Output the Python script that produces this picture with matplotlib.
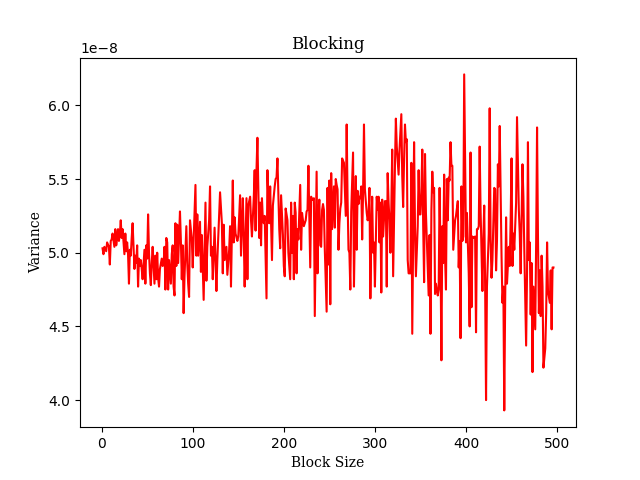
import numpy as np
import matplotlib
matplotlib.use("Agg")
import matplotlib.pyplot as plt

# Block sizes and variance values (in units of 1e-8)
block_size = [
    1, 2, 3, 5, 6, 8, 9, 10, 11, 12, 14, 15, 16, 17, 18, 19, 20, 21, 22, 23, 25, 26, 27, 28, 29, 30,
    31, 32, 33, 34, 36, 37, 38, 39, 40, 41, 42, 43, 44, 45, 47, 48, 49, 50, 51, 52, 53, 54, 55, 56,
    58, 59, 60, 61, 62, 63, 64, 66, 67, 68, 69, 70, 71, 72, 73, 74, 76, 77, 78, 79, 80, 81, 82, 83,
    84, 86, 87, 88, 89, 90, 91, 93, 94, 95, 96, 97, 99, 100,
    103, 104, 105, 106, 108, 109, 110, 112, 114, 115, 116, 118, 119, 120, 121, 122, 124, 126, 127,
    130, 132, 133, 134, 135, 137, 138, 140, 141, 142, 144, 145, 146, 147, 149, 150, 152, 153, 155,
    156, 157, 159, 160, 161, 163, 164, 165, 167, 168, 169, 170, 171, 173, 174, 175, 176, 177, 178,
    179, 181, 182, 183, 184, 185, 187, 188, 190, 191, 192, 193, 195, 196, 197, 199, 200, 201, 202,
    204, 205, 207,
    208, 209, 210, 211, 212, 213, 214, 215, 216, 218, 219, 220, 221, 222, 224, 225, 226, 227, 229,
    230, 231, 232, 233, 234, 236, 237, 238, 239, 240, 241, 242, 243, 244, 245, 247, 248, 249, 250,
    251, 252, 253, 255, 256, 257, 258, 259, 260, 261, 262, 263, 264, 266, 267, 268, 269, 270, 271,
    272, 273, 274, 276, 277, 278, 279, 280, 281, 282, 283, 284, 285, 286, 287, 288, 289, 291, 292,
    293, 294, 295, 296, 297, 298, 299, 300, 302, 303, 304, 305, 306, 307, 308, 309, 311,
    312, 313, 314, 315, 316, 317, 318, 319, 320, 322, 323, 324, 325, 326, 327, 329, 330, 331, 332,
    333, 334, 335, 336, 337, 339, 340, 341, 342, 343, 344, 345, 347, 348, 349, 350, 351, 352, 353,
    354, 355, 356, 357, 359, 360, 361, 362, 363, 364, 365, 366, 367, 369, 370, 371, 372, 373, 374,
    375, 376, 377, 378, 379, 380, 381, 382, 383, 384, 385, 386, 388, 389, 390, 391, 392, 393, 394,
    395, 396, 397, 398, 400, 401, 402, 403, 404, 405, 406, 407, 408, 410, 411, 412, 413, 414, 415,
    416, 418, 419, 420, 421, 422, 423, 425, 426, 427, 428, 429, 431, 432, 433, 434, 435, 436, 437,
    439, 440, 441, 442, 443, 444, 445, 447, 448, 449, 450, 451, 452, 453, 455, 456, 457, 458, 459,
    460, 462, 463, 464, 466, 467, 468, 469, 470, 471, 472, 473, 474, 476, 477, 478, 479, 480, 481,
    482, 483, 484, 485, 487, 488, 489, 490, 491, 492, 493, 494, 495, 496,
]

variance_e8 = [
    5.03, 4.99, 5.04, 5.01, 5.07, 5.04, 4.92, 5.08, 5.09, 5.13, 5.04, 5.16, 5.05, 5.10, 5.16, 5.08,
    5.13, 5.22, 5.10, 5.16, 4.99, 5.13, 5.01, 5.07, 4.99, 4.79,
    5.02, 4.98, 5.10, 5.20, 4.89, 4.98, 4.93, 5.05, 4.77, 4.96, 4.91, 4.95, 4.89, 4.82, 5.02, 4.79,
    5.05, 4.96, 5.26, 5.00, 4.86, 4.78, 4.93, 5.04,
    4.79, 4.98, 4.82, 5.00, 4.83, 4.77, 4.89, 4.96, 4.91, 4.92, 5.04, 4.75, 5.10, 5.07, 4.75, 4.95,
    4.79, 4.99, 5.05, 4.77, 4.71, 5.20, 4.91, 5.19,
    4.93, 5.28, 5.08, 4.82, 5.05, 4.59, 4.84, 5.18, 4.93, 4.79, 4.70, 5.22, 5.09, 4.90,
    5.46, 4.98, 5.26, 4.98, 5.21, 4.87, 5.12, 4.68, 5.34, 4.81, 5.04, 5.22, 5.45, 4.98, 5.04, 4.82,
    5.17, 4.74, 4.95,
    5.41, 5.20, 4.86, 5.19, 4.95, 5.04, 4.85, 5.02, 5.18, 4.77, 5.49, 5.07, 5.24, 5.13, 5.08, 5.11,
    5.39, 4.98, 5.37,
    5.12, 4.77, 5.37, 4.82, 5.32, 5.38, 5.22, 5.11, 5.37, 5.56, 5.15, 5.56, 5.78, 5.10, 5.34, 5.05,
    5.37, 5.22, 5.20,
    5.25, 4.69, 5.56, 5.36, 5.20, 5.45, 4.95, 5.32, 5.45, 5.50, 5.51, 5.64, 5.16, 5.03, 5.39, 5.12,
    4.91, 4.84, 5.30,
    5.22, 5.00, 4.82,
    5.34, 5.00, 5.25, 4.82, 5.34, 5.27, 4.86, 5.16, 5.09, 5.46, 5.02, 5.27, 5.22, 5.18, 5.22, 5.28,
    5.29, 5.59, 4.90,
    5.38, 5.36, 5.36, 5.37, 4.57, 5.55, 4.86, 5.27, 5.36, 5.05, 5.04, 5.29, 5.33, 5.29, 5.02, 4.60,
    5.44, 4.92, 5.49,
    4.65, 5.54, 5.16, 5.45, 5.17, 5.50, 5.46, 5.43, 5.02, 5.20, 5.30, 5.34, 5.64, 5.61, 5.43, 5.25,
    5.87, 5.36, 5.02,
    5.00, 4.75, 5.28, 5.68, 4.77, 5.18, 5.52, 5.02, 5.42, 5.33, 5.38, 5.37, 5.45, 5.09, 5.41, 5.87,
    5.43, 5.27, 5.22,
    5.25, 5.44, 4.69, 5.11, 5.38, 5.00, 5.07, 4.77, 5.38, 5.29, 5.38, 5.07, 5.34, 4.73, 5.36, 5.11,
    5.35,
    5.35, 4.77, 5.54, 5.34, 5.22, 5.00, 5.29, 5.70, 4.84, 5.59, 5.91, 5.72, 5.63, 5.53, 5.70, 5.94,
    5.52, 5.31, 5.63,
    5.87, 5.75, 5.77, 4.95, 4.86, 4.86, 5.61, 4.45, 5.09, 5.75, 5.18, 4.84, 5.18, 5.56, 5.26, 5.26,
    5.41, 5.70, 5.18,
    4.80, 5.67, 5.27, 5.09, 4.71, 5.12, 4.45, 5.29, 5.55, 5.41, 5.44, 4.72, 4.79, 4.71, 4.75, 5.44,
    4.99, 4.27, 5.18,
    4.93, 5.53, 4.97, 4.75, 5.50, 5.22, 5.51, 5.49, 5.75, 5.59, 5.59, 5.02, 5.22, 5.25, 5.30, 5.35,
    4.90, 5.08, 4.42,
    5.45, 5.08, 5.11, 6.21, 5.07, 5.27, 5.07, 4.86, 4.50, 5.68, 4.63, 5.11, 5.10, 5.11, 4.46, 5.16,
    5.16, 5.18, 5.72,
    5.29, 4.74, 5.09, 5.32, 4.77, 4.00, 4.77, 5.13, 5.98, 5.09, 4.83, 4.95, 5.44, 5.43, 4.88, 5.08,
    5.60, 5.45, 5.86,
    4.98, 4.66, 4.77, 3.93, 4.68, 5.24, 4.79, 5.04, 4.91, 5.22, 5.64, 4.91, 5.13, 5.02, 5.34, 5.92,
    5.59, 5.29, 5.13,
    4.86, 5.60, 5.38, 5.02, 4.37, 4.86, 5.75, 4.95, 5.07, 4.58, 4.93, 4.19, 4.77, 4.48, 5.07, 5.85,
    5.11, 4.59, 4.88,
    4.57, 4.98, 4.77, 4.22, 4.35, 4.59, 5.07, 4.74, 4.70, 4.66, 4.88, 4.48, 4.90, 4.90,
]

n = min(len(block_size), len(variance_e8))
x = np.array(block_size[:n])
y = np.array(variance_e8[:n]) * 1e-8

fig, ax = plt.subplots(figsize=(6.4, 4.8), dpi=100)
ax.plot(x, y, color="red", linewidth=1.5)
ax.set_title("Blocking", family="serif")
ax.set_xlabel("Block Size", family="serif")
ax.set_ylabel("Variance", family="serif")
fig.savefig("out.png", dpi=100)
print(len(block_size), len(variance_e8))
